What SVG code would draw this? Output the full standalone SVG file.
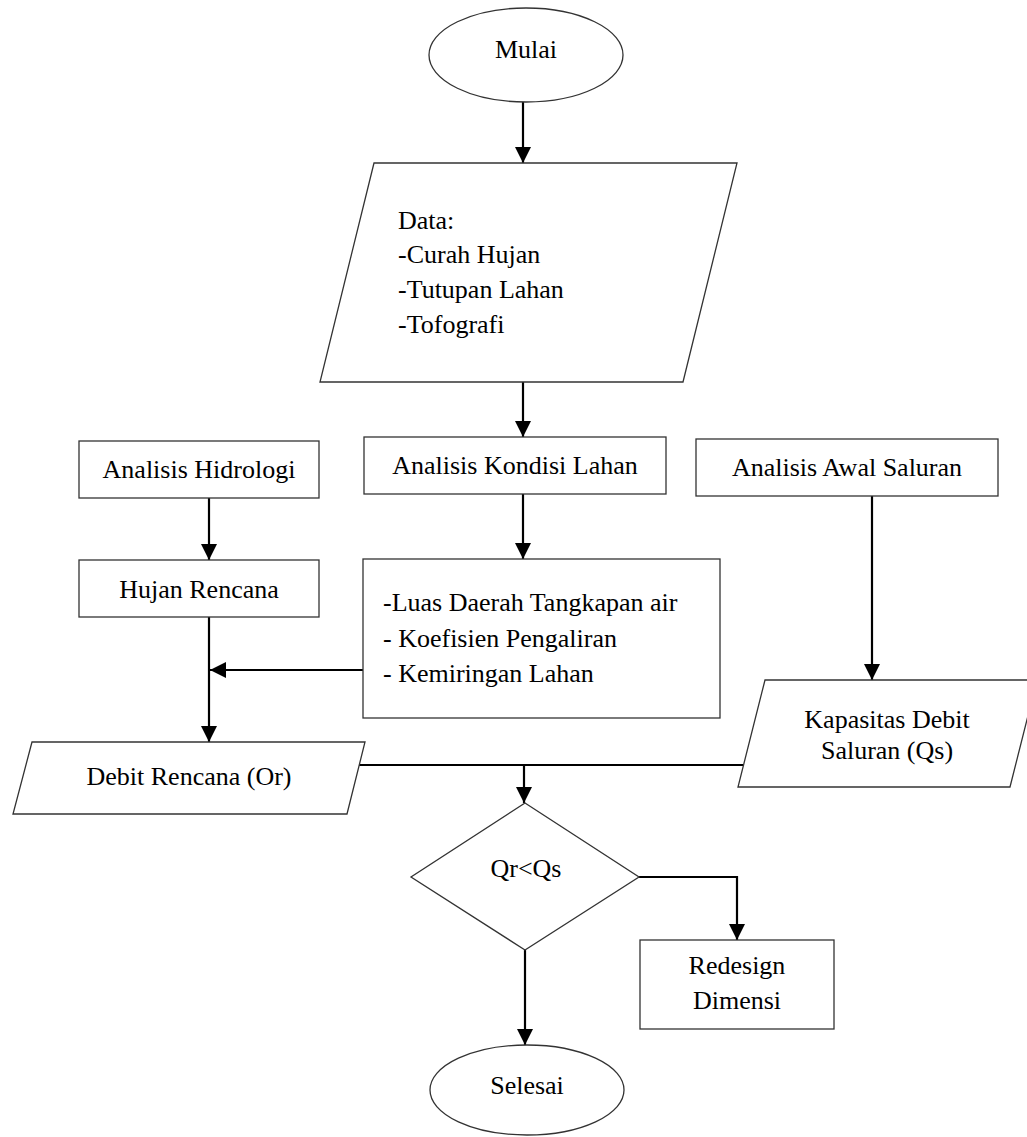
<svg xmlns="http://www.w3.org/2000/svg" width="1027" height="1137" viewBox="0 0 1027 1137">
<defs>
<style>
.shape{fill:#fff;stroke:#333;stroke-width:1.3}
.conn{fill:none;stroke:#000;stroke-width:2.2}
text{font-family:"Liberation Serif","Times New Roman",serif;font-size:26px;fill:#000}
.c{text-anchor:middle}
</style>
<marker id="arr" markerUnits="userSpaceOnUse" markerWidth="16" markerHeight="16" refX="15" refY="7.5" orient="auto" viewBox="0 0 15 15">
<path d="M0,0 L15,7.5 L0,15 z" fill="#000"/>
</marker>
</defs>
<rect width="1027" height="1137" fill="#fff"/>
<g id="connectors">
<line class="conn" x1="523" y1="102" x2="523" y2="163" marker-end="url(#arr)"/>
<line class="conn" x1="523" y1="382" x2="523" y2="437" marker-end="url(#arr)"/>
<line class="conn" x1="523" y1="494" x2="523" y2="559" marker-end="url(#arr)"/>
<line class="conn" x1="209" y1="498" x2="209" y2="560" marker-end="url(#arr)"/>
<line class="conn" x1="209" y1="617" x2="209" y2="742" marker-end="url(#arr)"/>
<line class="conn" x1="363" y1="670" x2="210" y2="670" marker-end="url(#arr)"/>
<line class="conn" x1="872" y1="496" x2="872" y2="680" marker-end="url(#arr)"/>
<line class="conn" x1="357" y1="765" x2="743" y2="765"/>
<line class="conn" x1="524" y1="765" x2="524" y2="803" marker-end="url(#arr)"/>
<polyline class="conn" points="639,877 737,877 737,940" marker-end="url(#arr)"/>
<line class="conn" x1="525" y1="950" x2="525" y2="1045" marker-end="url(#arr)"/>
</g>
<g id="mulai">
<ellipse class="shape" cx="526" cy="55" rx="97" ry="47"/>
<text class="c" x="526" y="58">Mulai</text>
</g>
<g id="data">
<polygon class="shape" points="374,163 737,163 683,382 320,382"/>
<text x="398" y="229">Data:</text>
<text x="398" y="263">-Curah Hujan</text>
<text x="398" y="298">-Tutupan Lahan</text>
<text x="398" y="333">-Tofografi</text>
</g>
<g id="hidrologi">
<rect class="shape" x="79" y="441" width="240" height="57"/>
<text class="c" x="199" y="478">Analisis Hidrologi</text>
</g>
<g id="kondisi">
<rect class="shape" x="364" y="437" width="302" height="57"/>
<text class="c" x="515" y="474">Analisis Kondisi Lahan</text>
</g>
<g id="awal">
<rect class="shape" x="696" y="439" width="302" height="57"/>
<text class="c" x="847" y="476">Analisis Awal Saluran</text>
</g>
<g id="hujan">
<rect class="shape" x="79" y="560" width="240" height="57"/>
<text class="c" x="199" y="598">Hujan Rencana</text>
</g>
<g id="luas">
<rect class="shape" x="363" y="559" width="357" height="159"/>
<text x="383" y="611">-Luas Daerah Tangkapan air</text>
<text x="383" y="647">- Koefisien Pengaliran</text>
<text x="383" y="682">- Kemiringan Lahan</text>
</g>
<g id="debit">
<polygon class="shape" points="32,742 365,742 347,814 13,814"/>
<text class="c" x="189" y="785">Debit Rencana (Or)</text>
</g>
<g id="kapasitas">
<polygon class="shape" points="765,680 1037,680 1010,787 738,787"/>
<text class="c" x="887" y="728">Kapasitas Debit</text>
<text class="c" x="887" y="759">Saluran (Qs)</text>
</g>
<g id="decision">
<polygon class="shape" points="525,803 639,877 525,950 411,877"/>
<text class="c" x="526" y="877">Qr&lt;Qs</text>
</g>
<g id="redesign">
<rect class="shape" x="640" y="940" width="194" height="89"/>
<text class="c" x="737" y="974">Redesign</text>
<text class="c" x="737" y="1009">Dimensi</text>
</g>
<g id="selesai">
<ellipse class="shape" cx="527" cy="1090" rx="97" ry="45"/>
<text class="c" x="527" y="1094">Selesai</text>
</g>
</svg>
